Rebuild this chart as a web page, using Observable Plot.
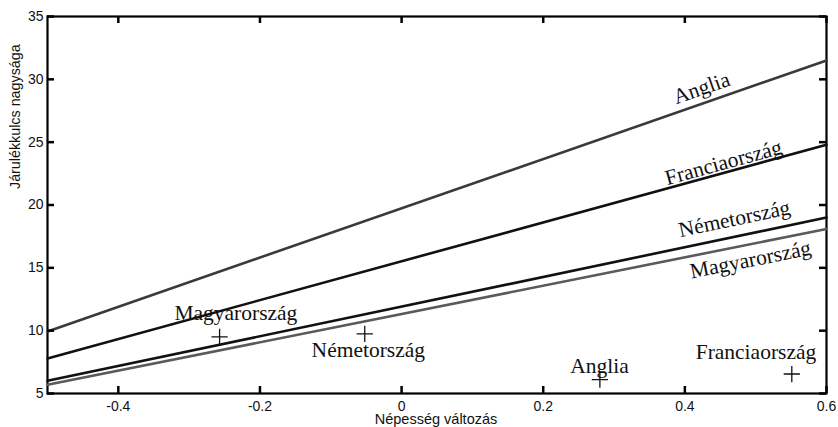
<!DOCTYPE html>
<html>
<head>
<meta charset="utf-8">
<script src="https://cdn.jsdelivr.net/npm/d3@7"></script>
<script src="https://cdn.jsdelivr.net/npm/@observablehq/plot@0.6"></script>
<style>
  html, body { margin: 0; padding: 0; background: #fff; }
  #chart svg { display: block; }
</style>
</head>
<body>
<div id="chart"></div>
<script>
// Regression lines (endpoints at x = -0.5 and x = 0.6)
const countries = ["Anglia", "Franciaország", "Németország", "Magyarország"];
const lineX = [-0.5, 0.6];
const lineY = {
  "Anglia": [9.94, 31.5],
  "Franciaország": [7.79, 24.8],
  "Németország": [6.01, 19.0],
  "Magyarország": [5.69, 18.09]
};
const lineColors = ["#3a3a3a", "#111111", "#111111", "#5a5a5a"];

// Observed points (+ markers)
const pointNames = ["Magyarország", "Németország", "Anglia", "Franciaország"];
const pointX = [-0.257, -0.052, 0.28, 0.551];
const pointY = [9.5, 9.75, 6.1, 6.55];

// Label anchors (data coordinates)
const pointLabelX = [-0.234, -0.047, 0.2795, 0.5004];
const pointLabelY = [11.43, 8.48, 7.2, 8.32];
const lineLabelX = [0.4235, 0.4545, 0.470, 0.4927];
const lineLabelY = [29.3, 23.37, 18.9, 15.64];

const xTicks = [-0.4, -0.2, 0, 0.2, 0.4, 0.6];
const yTicks = [5, 10, 15, 20, 25, 30, 35];
const xLabel = "Népesség változás";
const yLabel = "Járulékkulcs nagysága";

const xDomain = [-0.5, 0.6];
const yDomain = [5, 35];
const W = 838, H = 427;
const mL = 47, mR = 12, mT = 16, mB = 34;
const fw = W - mL - mR, fh = H - mT - mB;
const tick = 7;
const xTickLen = (xDomain[1] - xDomain[0]) * tick / fw;
const yTickLen = (yDomain[1] - yDomain[0]) * tick / fh;

const lineData = countries.flatMap((c, i) =>
  lineX.map((x, j) => ({country: c, x, y: lineY[c][j], color: lineColors[i]})));
const points = pointNames.map((n, i) => ({name: n, x: pointX[i], y: pointY[i], lx: pointLabelX[i], ly: pointLabelY[i]}));
const lineLabels = countries.map((c, i) => ({name: c, x: lineLabelX[i], y: lineLabelY[i], y0: lineY[c][0], y1: lineY[c][1]}));

const xScale = d3.scaleLinear(xDomain, [0, fw]);
const yScale = d3.scaleLinear(yDomain, [fh, 0]);
function angleOf(d) {
  const dx = xScale(lineX[1]) - xScale(lineX[0]);
  const dy = yScale(d.y1) - yScale(d.y0);
  return Math.atan2(dy, dx) * 180 / Math.PI;
}

const serif = "'Liberation Serif', 'DejaVu Serif', serif";

const chart = Plot.plot({
  width: W, height: H,
  marginLeft: mL, marginRight: mR, marginTop: mT, marginBottom: mB,
  style: {fontFamily: "'Liberation Sans', Arial, sans-serif", fontSize: "14px", color: "#111", background: "#fff"},
  x: {domain: xDomain},
  y: {domain: yDomain},
  marks: [
    Plot.frame({stroke: "#000", strokeWidth: 2.2, fill: "none"}),
    Plot.axisX(xTicks, {tickSize: 0, tickPadding: 8, tickFormat: d => String(d), label: null, fontSize: 14}),
    Plot.axisY(yTicks, {tickSize: 0, tickPadding: 4, tickFormat: d => String(d), label: null, fontSize: 14}),
    Plot.line(lineData, {x: "x", y: "y", z: "country", stroke: "color", strokeWidth: 2.6}),
    // inward ticks on all four sides
    Plot.ruleX(xTicks, {x: d => d, y1: yDomain[0], y2: yDomain[0] + yTickLen, stroke: "#000", strokeWidth: 2.5}),
    Plot.ruleX(xTicks, {x: d => d, y1: yDomain[1], y2: yDomain[1] - yTickLen, stroke: "#000", strokeWidth: 2.5}),
    Plot.ruleY(yTicks, {y: d => d, x1: xDomain[0], x2: xDomain[0] + xTickLen, stroke: "#000", strokeWidth: 2.5}),
    Plot.ruleY(yTicks, {y: d => d, x1: xDomain[1], x2: xDomain[1] - xTickLen, stroke: "#000", strokeWidth: 2.5}),
    Plot.dot(points, {x: "x", y: "y", symbol: "plus", r: 5.3, stroke: "#111", strokeWidth: 1.3}),
    Plot.text(points, {x: "lx", y: "ly", text: "name", fontFamily: serif, fontSize: 21.5, fill: "#111"}),
    Plot.text(lineLabels, {x: "x", y: "y", text: "name", rotate: d => angleOf(d), fontFamily: serif, fontSize: 21.5, fill: "#111"}),
    Plot.text([yLabel], {text: d => d, frameAnchor: "left", dx: -32, dy: -16, rotate: -90, fontSize: 14.3, fill: "#111"}),
    Plot.text([xLabel], {text: d => d, frameAnchor: "bottom", dx: -1, dy: 30, fontSize: 14.5, fill: "#111"})
  ]
});
document.getElementById("chart").appendChild(chart);
</script>
</body>
</html>
